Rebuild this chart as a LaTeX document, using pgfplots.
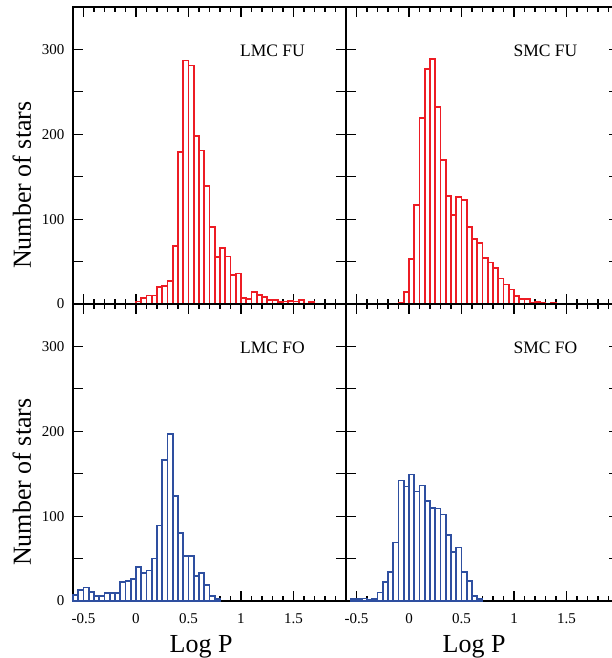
\documentclass[border=0pt]{standalone}
\usepackage{fontspec}
\setmainfont{Liberation Serif}
\usepackage{pgfplots}
\pgfplotsset{compat=1.18}

\definecolor{histred}{RGB}{237,28,36}
\definecolor{histblue}{RGB}{46,79,160}

\tikzset{tag/.style={font=\fontsize{17.5}{20}\selectfont, anchor=center}}

\pgfplotsset{
  panel/.style={
    scale only axis, width=273pt, height=297pt,
    xmin=-0.6, xmax=2.0, ymin=0, ymax=350,
    xtick={-0.5,0,0.5,1,1.5,2},
    minor xtick={-0.6,-0.4,-0.3,-0.2,-0.1,0.1,0.2,0.3,0.4,0.6,0.7,0.8,0.9,1.1,1.2,1.3,1.4,1.6,1.7,1.8,1.9},
    ytick={0,50,100,150,200,250,300},
    xticklabels={}, yticklabels={},
    tick align=inside,
    major tick length=10pt, minor tick length=5pt,
    axis line style={line width=1.6pt},
    every tick/.style={black, line width=1.2pt},
    ticklabel style={font=\fontsize{15}{17}\selectfont},
    xticklabel style={yshift=-9pt},
    yticklabel style={xshift=-5pt},
    label style={font=\fontsize{26}{30}\selectfont},
    clip=false,
  },
  leftpanel/.style={
    yticklabels={0,,100,,200,,300},
    ylabel={Number of stars},
    ylabel style={at={(axis description cs:-0.187,0.40)}, anchor=center},
  },
  bottompanel/.style={
    xticklabels={-0.5,0,0.5,1,1.5,},
    xlabel={Log P},
    xlabel style={at={(axis cs:0.62,0)}, anchor=base, yshift=-51pt},
  },
  redbars/.style={ybar interval, draw=histred, fill=white, line width=1.8pt},
  bluebars/.style={ybar interval, draw=histblue, fill=white, line width=1.8pt},
}

\begin{document}
\begin{tikzpicture}
\useasboundingbox (-73pt,-57pt) rectangle (538pt,601pt);

% LMC FU
\begin{axis}[panel, leftpanel, at={(0pt,297pt)}, anchor=south west]
\addplot[redbars] coordinates {
(0.00,3) (0.05,7) (0.10,10) (0.15,10) (0.20,20) (0.25,21) (0.30,27) (0.35,68)
(0.40,179) (0.45,287) (0.50,281) (0.55,198) (0.60,181) (0.65,139) (0.70,91)
(0.75,55) (0.80,66) (0.85,56) (0.90,34) (0.95,36) (1.00,7) (1.05,6) (1.10,14)
(1.15,11) (1.20,8) (1.25,5) (1.30,5) (1.35,2) (1.40,3) (1.45,4) (1.50,3)
(1.55,5) (1.60,0) (1.65,2) (1.70,0)
};
\node[tag] at (axis cs:1.3,298) {LMC FU};
\end{axis}

% SMC FU
\begin{axis}[panel, at={(273pt,297pt)}, anchor=south west]
\addplot[redbars] coordinates {
(-0.10,1) (-0.05,14) (0.00,53) (0.05,117) (0.10,219) (0.15,277) (0.20,289)
(0.25,232) (0.30,170) (0.35,127) (0.40,105) (0.45,126) (0.50,123) (0.55,91)
(0.60,77) (0.65,72) (0.70,54) (0.75,49) (0.80,42) (0.85,30) (0.90,23)
(0.95,17) (1.00,9) (1.05,6) (1.10,6) (1.15,1) (1.20,2) (1.25,1) (1.30,0)
(1.35,1) (1.40,0)
};
\node[tag] at (axis cs:1.3,298) {SMC FU};
\end{axis}

% LMC FO
\begin{axis}[panel, leftpanel, bottompanel, at={(0pt,0pt)}, anchor=south west]
\addplot[bluebars] coordinates {
(-0.60,7) (-0.55,13) (-0.50,16) (-0.45,11) (-0.40,6) (-0.35,6) (-0.30,9)
(-0.25,9) (-0.20,9) (-0.15,22) (-0.10,24) (-0.05,26) (0.00,40) (0.05,33)
(0.10,36) (0.15,50) (0.20,89) (0.25,166) (0.30,197) (0.35,124) (0.40,80)
(0.45,53) (0.50,53) (0.55,29) (0.60,33) (0.65,19) (0.70,6) (0.75,2) (0.80,0)
};
\node[tag] at (axis cs:1.3,298) {LMC FO};
\end{axis}

% SMC FO
\begin{axis}[panel, bottompanel, at={(273pt,0pt)}, anchor=south west]
\addplot[bluebars] coordinates {
(-0.55,2) (-0.50,2) (-0.45,3) (-0.40,1) (-0.35,2) (-0.30,10) (-0.25,22)
(-0.20,34) (-0.15,69) (-0.10,142) (-0.05,135) (0.00,149) (0.05,129)
(0.10,136) (0.15,118) (0.20,110) (0.25,109) (0.30,102) (0.35,78) (0.40,58)
(0.45,63) (0.50,34) (0.55,24) (0.60,6) (0.65,2) (0.70,0)
};
\node[tag] at (axis cs:1.3,298) {SMC FO};
\end{axis}
\end{tikzpicture}
\end{document}
